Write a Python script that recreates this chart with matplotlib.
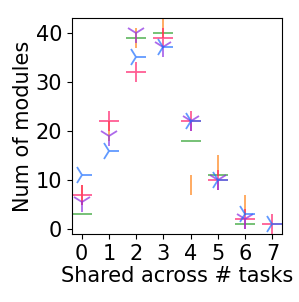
import matplotlib
matplotlib.use("Agg")
import matplotlib.pyplot as plt

x = [0, 1, 2, 3, 4, 5, 6, 7]

series_green = [3, None, 39, 40, 18, 11, 1, None]
series_orange = [7, 20, 39, 41, 9, 13, 5, None]
series_pink = [7, 22, 32, 39, 22, 10, 2, 1]
series_purple = [5.5, 19, 40, 37, 22, 10, 2, None]
series_blue = [11, 16, 35, 37, 22, 10, 3, 1]

series = [
    (series_green, "_", "#2ca02c"),
    (series_orange, "|", "#ff7f0e"),
    (series_pink, "+", "#ff1a66"),
    (series_purple, "1", "#8a2be2"),
    (series_blue, "4", "#1e6fff"),
]

fig = plt.figure(figsize=(2.99, 3.02), dpi=100)
ax = fig.add_axes([72/299, 1-234/302, (282-72)/299, (234-18)/302])

for vals, m, c in series:
    xs = [xi for xi, v in zip(x, vals) if v is not None]
    ys = [v for v in vals if v is not None]
    ax.plot(xs, ys, linestyle="none", marker=m, markersize=15,
            markeredgewidth=1.3, color=c, alpha=0.7)

ax.set_xticks(x)
ax.set_yticks([0, 10, 20, 30, 40])
ax.tick_params(labelsize=15)
ax.set_xlabel("Shared across # tasks", fontsize=15, labelpad=2)
ax.set_ylabel("Num of modules", fontsize=15, labelpad=2)

fig.savefig("out.png", dpi=100)
